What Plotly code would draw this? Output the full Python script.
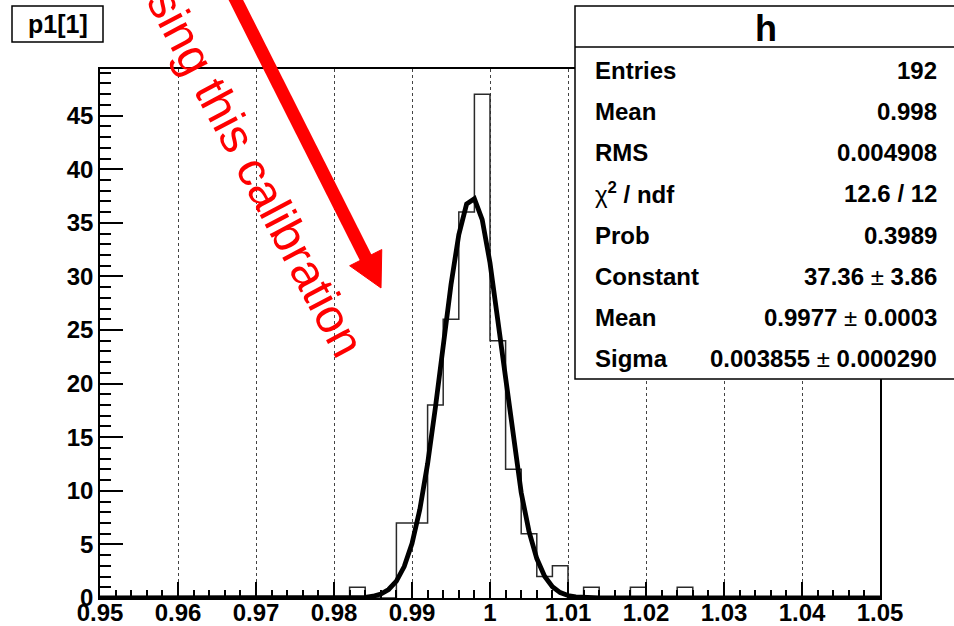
import numpy as np
import plotly.graph_objects as go

# ---------------- data ----------------
x_min, x_max, n_bins = 0.95, 1.05, 50
bin_low_edges = [0.982, 0.988, 0.990, 0.992, 0.994, 0.996, 0.998, 1.000,
                 1.002, 1.004, 1.006, 1.008, 1.012, 1.018, 1.024]
bin_counts = [1, 7, 7, 18, 26, 36, 47, 24, 12, 6, 2, 3, 1, 1, 1]

# Gaussian fit parameters (from the stats box)
fit_constant = 37.36
fit_mean = 0.9977
fit_sigma = 0.003855

x_tick_vals = [0.95, 0.96, 0.97, 0.98, 0.99, 1.0, 1.01, 1.02, 1.03, 1.04, 1.05]
x_tick_text = ["0.95", "0.96", "0.97", "0.98", "0.99", "1", "1.01", "1.02", "1.03", "1.04", "1.05"]
y_tick_vals = [0, 5, 10, 15, 20, 25, 30, 35, 40, 45]
y_tick_text = ["0", "5", "10", "15", "20", "25", "30", "35", "40", "45"]

stats_labels = ["Entries", "Mean", "RMS", "<span style='font-weight:normal'>χ</span><sup>2</sup> / ndf",
                "Prob", "Constant", "Mean", "Sigma"]
stats_values = ["192", "0.998", "0.004908", "12.6 / 12", "0.3989",
                "37.36 <span style='font-weight:normal'>±</span> 3.86",
                "0.9977 <span style='font-weight:normal'>±</span> 0.0003",
                "0.003855 <span style='font-weight:normal'>±</span> 0.000290"]

# ---------------- build histogram step ----------------
bw = (x_max - x_min) / n_bins
edges = [x_min + i * bw for i in range(n_bins + 1)]
counts_full = [0] * n_bins
for lo, c in zip(bin_low_edges, bin_counts):
    counts_full[int(round((lo - x_min) / bw))] = c
step_y = counts_full + [counts_full[-1]]

x_fit = np.linspace(x_min, x_max, 101)
y_fit = fit_constant * np.exp(-0.5 * ((x_fit - fit_mean) / fit_sigma) ** 2)

# ---------------- layout geometry ----------------
W, H = 954, 626
L, R, T, B = 100, 74, 69, 28
PW, PH = W - L - R, H - T - B
FONT = "Liberation Sans, Arial, Helvetica, sans-serif"


def px(xp):
    return (xp - L) / PW


def py(yp):
    return (T + PH - yp) / PH


fig = go.Figure()
fig.add_trace(go.Scatter(x=edges, y=step_y, mode="lines", line_shape="hv",
                         line=dict(color="#2a2a2a", width=1.5), hoverinfo="skip",
                         showlegend=False))
fig.add_trace(go.Scatter(x=x_fit, y=y_fit, mode="lines",
                         line=dict(color="black", width=4.8), hoverinfo="skip",
                         showlegend=False))

tickfont = dict(family=FONT, size=24, color="black", weight="bold")

fig.update_layout(
    width=W, height=H,
    margin=dict(l=L, r=R, t=T, b=B, pad=0, autoexpand=False),
    paper_bgcolor="white", plot_bgcolor="white",
    showlegend=False,
    xaxis=dict(range=[x_min, x_max], tickmode="array", tickvals=x_tick_vals,
               ticktext=x_tick_text, ticks="inside", ticklen=16, tickwidth=1.5,
               tickcolor="black", showline=True, linecolor="black", linewidth=1.5,
               mirror=True, showgrid=True, gridcolor="#444444", griddash="dot",
               gridwidth=1, zeroline=False, tickfont=tickfont, automargin=False,
               ticklabelstandoff=-8,
               minor=dict(tickmode="linear", tick0=x_min, dtick=0.002, ticks="inside",
                          ticklen=8, tickwidth=1.5, tickcolor="black", showgrid=False)),
    yaxis=dict(range=[0, 49.35], tickmode="array", tickvals=y_tick_vals,
               ticktext=y_tick_text, ticks="inside", ticklen=23, tickwidth=1.5,
               tickcolor="black", showline=True, linecolor="black", linewidth=1.5,
               mirror=True, showgrid=False, zeroline=False, tickfont=tickfont,
               automargin=False,
               minor=dict(tickmode="linear", tick0=0, dtick=1, ticks="inside",
                          ticklen=11.5, tickwidth=1.5, tickcolor="black", showgrid=False)),
)

shapes = []
annotations = []

# ---- red arrow ----
tip = (381.0, 288.0)
d = (0.45, 0.893)
perp = (0.893, -0.45)
head_len, head_half = 34.0, 18.0
base = (tip[0] - head_len * d[0], tip[1] - head_len * d[1])
c1 = (base[0] + head_half * perp[0], base[1] + head_half * perp[1])
c2 = (base[0] - head_half * perp[0], base[1] - head_half * perp[1])
start = (base[0] - 330 * d[0], base[1] - 330 * d[1])
shapes.append(dict(type="line", xref="paper", yref="paper",
                   x0=px(start[0]), y0=py(start[1]), x1=px(base[0] + 2 * d[0]), y1=py(base[1] + 2 * d[1]),
                   line=dict(color="#ff0000", width=13), layer="above"))
shapes.append(dict(type="path", xref="paper", yref="paper",
                   path=f"M {px(tip[0])} {py(tip[1])} L {px(c1[0])} {py(c1[1])} L {px(c2[0])} {py(c2[1])} Z",
                   fillcolor="#ff0000", line=dict(color="#ff0000", width=1), layer="above"))

annotations.append(dict(text="Using this calibration", xref="paper", yref="paper",
                        x=px(248), y=py(157), xanchor="center", yanchor="middle",
                        showarrow=False, textangle=62,
                        font=dict(family=FONT, size=48, color="#ff0000")))

# ---- p1[1] title box ----
shapes.append(dict(type="rect", xref="paper", yref="paper",
                   x0=px(12), y0=py(42), x1=px(103), y1=py(6),
                   fillcolor="white", line=dict(color="black", width=1.5), layer="above"))
annotations.append(dict(text="<b>p1[1]</b>", xref="paper", yref="paper",
                        x=px(57.5), y=py(24), xanchor="center", yanchor="middle",
                        showarrow=False, font=dict(family=FONT, size=25, color="black")))

# ---- stats box ----
shapes.append(dict(type="rect", xref="paper", yref="paper",
                   x0=px(575), y0=py(379), x1=px(960), y1=py(6),
                   fillcolor="white", line=dict(color="black", width=1.5), layer="above"))
shapes.append(dict(type="line", xref="paper", yref="paper",
                   x0=px(575), y0=py(47), x1=px(960), y1=py(47),
                   line=dict(color="black", width=1.5), layer="above"))
annotations.append(dict(text="<b>h</b>", xref="paper", yref="paper",
                        x=px(766), y=py(29), xanchor="center", yanchor="middle",
                        showarrow=False, font=dict(family=FONT, size=36, color="black")))
row_y = [70, 111, 152, 193, 235, 276, 317, 358]
for lab, val, yy in zip(stats_labels, stats_values, row_y):
    annotations.append(dict(text=f"<b>{lab}</b>", xref="paper", yref="paper",
                            x=px(593), y=py(yy), xanchor="left", yanchor="middle",
                            showarrow=False, font=dict(family=FONT, size=24, color="black")))
    annotations.append(dict(text=f"<b>{val}</b>", xref="paper", yref="paper",
                            x=px(939), y=py(yy), xanchor="right", yanchor="middle",
                            showarrow=False, font=dict(family=FONT, size=24, color="black")))

fig.update_layout(shapes=shapes, annotations=annotations)
fig.write_html("out.html", config={"displayModeBar": False},
               post_script="document.body.style.margin='0';document.body.style.overflow='hidden';")
